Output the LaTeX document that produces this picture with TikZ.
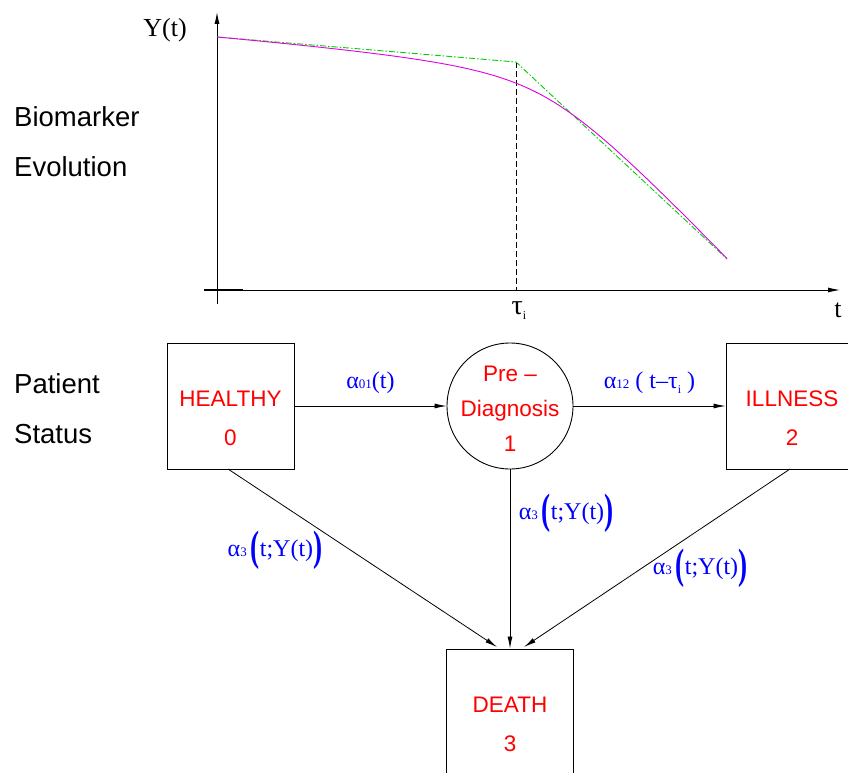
\documentclass[tikz,border=0pt]{standalone}
\usepackage{fontspec}
\setmainfont{Liberation Serif}
\setsansfont{Liberation Sans}
\usetikzlibrary{positioning, arrows.meta}
\definecolor{curveMag}{HTML}{E000E0}
\definecolor{curveGrn}{HTML}{00D000}
\definecolor{rateBlue}{HTML}{0000FF}
\definecolor{stateRed}{HTML}{FF0000}
% small index digits and the big brackets of the rates
\newcommand{\idx}[1]{{\fontsize{13}{13}\selectfont #1}}
\newcommand{\lowidx}[1]{\raisebox{-5pt}{\fontsize{12}{12}\selectfont #1}}
\newcommand{\bigbr}[1]{\raisebox{-4pt}{\scalebox{0.8}[1.25]{\fontsize{34}{34}\selectfont\bfseries #1}}}

\begin{document}
\begin{tikzpicture}[
        x=1pt, y=-1pt,
        >={Latex[length=12pt, width=5pt]},
        side/.style={font=\sffamily\fontsize{27.5}{50}\selectfont,
                     align=left, anchor=base west, inner sep=0pt},
        state/.style={draw, line width=0.9pt, minimum width=127pt,
                      minimum height=126pt, inner sep=0pt, align=center,
                      text height=84pt, text depth=5pt,
                      text=stateRed, font=\sffamily\fontsize{22.5}{39}\selectfont},
        axlab/.style={font=\fontsize{26}{26}\selectfont, inner sep=0pt},
        rate/.style={text=rateBlue, font=\fontsize{24}{24}\selectfont, inner sep=0pt},
        trans/.style={->, line width=0.8pt},
      ]
      \clip (0,0) rectangle (848,773);

      % biomarker panel
      \draw[->, line width=0.9pt] (204,290) -- (840,290);
      \draw[line width=2pt] (204,290) -- (243,290);
      \draw[->, line width=0.9pt] (217,304) -- (217,12);
      \draw[line width=0.8pt, dash pattern=on 6pt off 3pt] (516,62) -- (516,290);
      \draw[curveGrn, line width=0.9pt, dash pattern=on 6pt off 2pt on 1.5pt off 2pt]
        (217,37) -- (516,62) -- (727,259);
      \draw[curveMag, line width=0.9pt] plot[domain=0:510, samples=90]
        ({217+\x}, {37 + 0.08*\x + 0.492*((\x-330) + 10*sqrt(((\x-330)/10)^2 + 64)) - 4.73});
      \node[axlab] (ylab) at (165,30) {Y(t)};
      \node[axlab] (tlab) at (838,310) {t};
      \node[axlab, font=\fontsize{28}{28}\selectfont] (taulab) at (519,311) {τ\lowidx{i}};

      % side captions
      \node[side] (bio) at (14,176) {Biomarker\\Evolution};
      \node[side] (pat) at (14,443) {Patient\\Status};

      % states
      \node[state] (healthy) at (230.5,406) {HEALTHY\\0};
      \node[state, circle, minimum size=126pt, inner sep=-8pt, text height=95pt,
            font=\sffamily\fontsize{22.5}{35}\selectfont]
        (pre) at (510,406) {Pre –\\Diagnosis\\1};
      \node[state, minimum width=132pt] (ill) at (792,406) {ILLNESS\\2};
      \node[state] (death) at (510,712) {DEATH\\3};

      % transitions
      \draw[trans] (healthy) -- (pre)
        node[rate, midway, above=12pt] (r01) {α\idx{01}(t)};
      \draw[trans] (pre) -- (ill)
        node[rate, midway, above=12pt] (r12) {α\idx{12} ( t–τ\lowidx{i} )};
      \draw[trans] (pre) -- (death);
      \draw[trans] (228,469) -- (497,647);
      \draw[trans] (790,469) -- (524,647);
      \node[rate] (r03) at (275,550) {α\idx{3}\,\bigbr{(}t;Y(t)\bigbr{)}};
      \node[rate] (r13) at (566,513) {α\idx{3}\,\bigbr{(}t;Y(t)\bigbr{)}};
      \node[rate] (r23) at (700,568) {α\idx{3}\,\bigbr{(}t;Y(t)\bigbr{)}};
    \end{tikzpicture}
\end{document}
